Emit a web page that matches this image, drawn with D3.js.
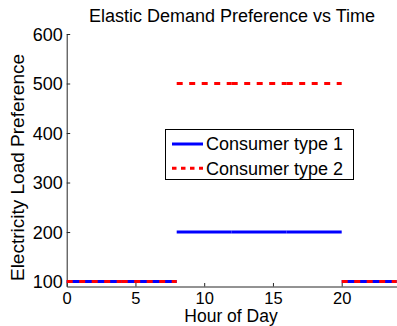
<!DOCTYPE html>
<html>
<head>
<meta charset="utf-8">
<script src="https://cdn.jsdelivr.net/npm/d3@7"></script>
<style>
  html, body { margin: 0; padding: 0; background: #fff; }
  svg { display: block; }
  text { font-family: "Liberation Sans", Arial, Helvetica, sans-serif; fill: #000; }
</style>
</head>
<body>
<script>
// Four-hour blocks of the day and the load preference of each consumer type
const blockStart = [0, 4, 8, 12, 16, 20];
const blockEnd   = [4, 8, 12, 16, 20, 24];
const consumerType1 = [100, 100, 200, 200, 200, 100];
const consumerType2 = [100, 100, 500, 500, 500, 100];
const seriesNames = ["Consumer type 1", "Consumer type 2"];
const xTicks = [0, 5, 10, 15, 20];
const yTicks = [100, 200, 300, 400, 500, 600];

const W = 397, H = 326;
const svg = d3.select("body").append("svg").attr("width", W).attr("height", H);

const x = d3.scaleLinear().domain([0, 24]).range([66.7, 396.7]);
const y = d3.scaleLinear().domain([90, 600]).range([286.5, 34]);

// Axes: ticks point inward, no outer box
const xAxis = d3.axisBottom(x).tickValues(xTicks).tickSizeInner(-3.5).tickSizeOuter(0);
const yAxis = d3.axisLeft(y).tickValues(yTicks).tickSizeInner(-3.5).tickSizeOuter(0);

const gx = svg.append("g").attr("transform", `translate(0,${y(90)})`).call(xAxis);
const gy = svg.append("g").attr("transform", `translate(${x(0)},0)`).call(yAxis);
[gx, gy].forEach(g => {
  g.select(".domain").attr("stroke", "#262626").attr("stroke-width", 1);
  g.selectAll(".tick line").attr("stroke", "#262626");
  g.selectAll("text").attr("font-size", 18).attr("font-family", null).attr("fill", "#000");
});
gx.selectAll(".tick text").attr("font-size", 16.5).attr("dy", null).attr("y", 17);
gy.selectAll(".tick text").attr("x", -4).attr("dy", "0.35em");

// Series lines, one segment per block
const series = [
  { name: seriesNames[0], values: consumerType1, color: "#0000ff", dash: null },
  { name: seriesNames[1], values: consumerType2, color: "#ff0000", dash: "6,6.5" }
];
const line = d3.line().x(d => x(d[0])).y(d => y(d[1]));
series.forEach(s => {
  svg.append("g").selectAll("path")
    .data(s.values.map((v, i) => [[blockStart[i], v], [blockEnd[i], v]]))
    .join("path")
    .attr("d", line)
    .attr("fill", "none")
    .attr("stroke", s.color)
    .attr("stroke-width", 3)
    .attr("stroke-dasharray", s.dash);
});

// Titles
svg.append("text").attr("x", 232).attr("y", 22).attr("text-anchor", "middle")
  .attr("font-size", 18).text("Elastic Demand Preference vs Time");
svg.append("text").attr("x", 231).attr("y", 322).attr("text-anchor", "middle")
  .attr("font-size", 17.5).text("Hour of Day");
svg.append("text").attr("transform", "translate(23.5,167.5) rotate(-90)")
  .attr("text-anchor", "middle").attr("font-size", 19).text("Electricity Load Preference");

// Legend
const lg = svg.append("g");
lg.append("rect").attr("x", 165.5).attr("y", 129.5).attr("width", 188).attr("height", 50)
  .attr("fill", "#fff").attr("stroke", "#000").attr("stroke-width", 1);
series.forEach((s, i) => {
  const cy = 144 + i * 24.3;
  lg.append("line").attr("x1", 172).attr("x2", 203).attr("y1", cy).attr("y2", cy)
    .attr("stroke", s.color).attr("stroke-width", 3)
    .attr("stroke-dasharray", s.dash ? "4.5,4.5" : null);
  lg.append("text").attr("x", 206).attr("y", cy + 6.3).attr("font-size", 18).text(s.name);
});
</script>
</body>
</html>
